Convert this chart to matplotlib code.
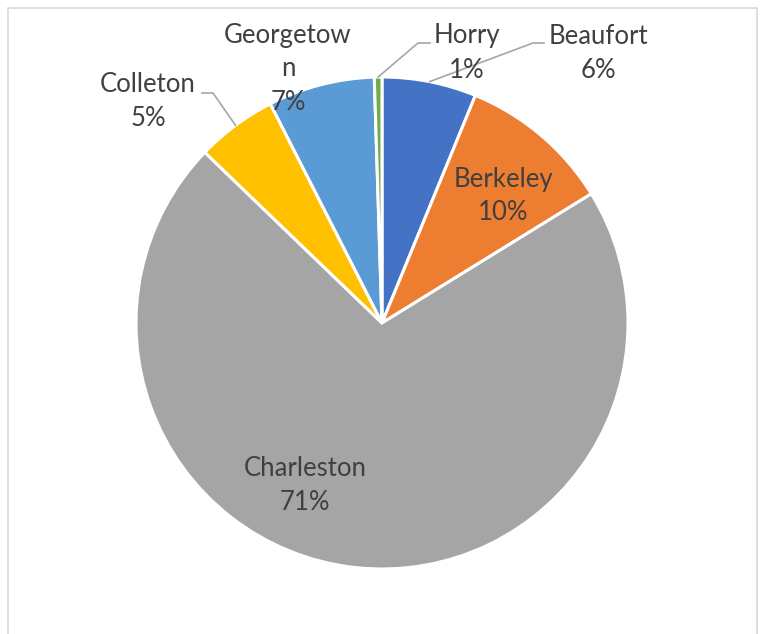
import numpy as np
import matplotlib
matplotlib.use("Agg")
import matplotlib.pyplot as plt
from matplotlib.patches import Rectangle

# county shares (%)
counties = ["Beaufort", "Berkeley", "Charleston", "Colleton", "Georgetown", "Horry"]
shares = [6.2, 10.0, 71.0, 5.3, 7.0, 0.5]
colors = ["#4472C4", "#ED7D31", "#A5A5A5", "#FFC000", "#5B9BD5", "#70AD47"]
# label text lines (Excel wraps "Georgetown")
label_names = ["Beaufort", "Berkeley", "Charleston", "Colleton", "Georgetow\nn", "Horry"]

W, H = 760, 634
plt.rcParams['font.family'] = ['Lato', 'DejaVu Sans']

fig = plt.figure(figsize=(W / 100, H / 100), dpi=100)
ax = fig.add_axes([0, 0, 1, 1])
ax.set_xlim(0, W)
ax.set_ylim(0, H)
ax.set_aspect('equal')
ax.axis('off')

def P(x, y):
    # pixel coords (y down) -> data coords
    return x, H - y

cx, cy = P(382, 323)
R = 246
wedges, _ = ax.pie(shares, colors=colors, startangle=90, counterclock=False,
                   center=(cx, cy), radius=R,
                   wedgeprops=dict(edgecolor="white", linewidth=2.2))
ax.set_xlim(0, W)
ax.set_ylim(0, H)

# label centre positions (pixels) and leader elbows
label_pos = {"Beaufort": (598, 53), "Berkeley": (503, 196), "Charleston": (305, 486),
             "Colleton": (148, 102), "Georgetown": (288, 69), "Horry": (467, 53)}
leaders = {"Horry": [(418, 43), (430, 43)],
           "Beaufort": [(533, 43), (544, 43)],
           "Colleton": [(213, 93), (202, 93)]}

for w, name, lab, v in zip(wedges, counties, label_names, shares):
    pct = int(v + 0.5)
    x, y = P(*label_pos[name])
    ax.text(x, y, f"{lab}\n{pct}%", ha="center", va="center", fontsize=18.5,
            color="#404040", linespacing=1.45, zorder=5)
    if name in leaders:
        mid = np.deg2rad((w.theta1 + w.theta2) / 2)
        x0 = cx + R * np.cos(mid)
        y0 = cy + R * np.sin(mid)
        pts = [(x0, y0)] + [P(*p) for p in leaders[name]]
        ax.plot([p[0] for p in pts], [p[1] for p in pts], color="#A6A6A6",
                linewidth=1.2, zorder=4)

# chart area border
fig.patches.append(Rectangle((8 / W, -0.05), (757 - 8) / W, 1.05 - 8 / H,
                             transform=fig.transFigure, fill=False,
                             edgecolor="#D9D9D9", linewidth=1.2))

fig.savefig("out.png", dpi=100, facecolor="white")
